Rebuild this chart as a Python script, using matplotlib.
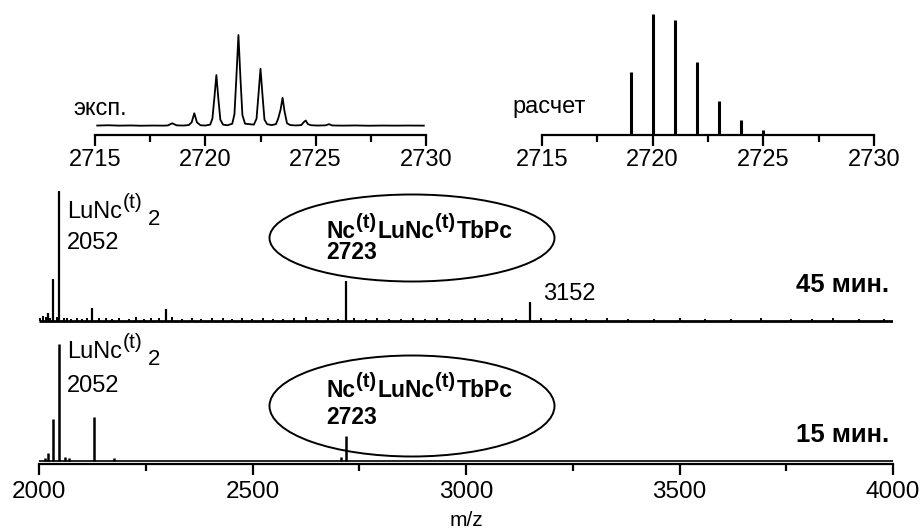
import numpy as np
import matplotlib.pyplot as plt
from matplotlib.patches import Ellipse
from matplotlib.ticker import MultipleLocator
from matplotlib.transforms import IdentityTransform

plt.rcParams['font.family'] = ['Liberation Sans', 'DejaVu Sans']

# --- inset: experimental isotope pattern (relative intensity, %)
exp_mz = [2715.1, 2715.6, 2716.1, 2716.6, 2717.1, 2717.6, 2718.1, 2718.3, 2718.5, 2718.7,
          2719.0, 2719.25, 2719.38, 2719.5, 2719.62, 2719.78, 2720.0, 2720.22, 2720.32, 2720.41,
          2720.5, 2720.59, 2720.68, 2720.8, 2721.0, 2721.22, 2721.32, 2721.41, 2721.5, 2721.59,
          2721.68, 2721.8, 2722.0, 2722.2, 2722.32, 2722.41, 2722.5, 2722.59, 2722.68, 2722.8,
          2723.0, 2723.2, 2723.3, 2723.41, 2723.5, 2723.59, 2723.7, 2723.85, 2724.1, 2724.35,
          2724.45, 2724.55, 2724.65, 2724.8, 2725.1, 2725.45, 2725.6, 2725.75, 2726.2, 2726.8,
          2727.4, 2728.0, 2728.6, 2729.2, 2729.9]
exp_int = [0.5, 0.8, 0.4, 0.6, 0.3, 0.5, 0.4, 0.6, 3, 0.7,
           0.5, 1.0, 4, 14, 4, 0.8, 0.5, 1.5, 8, 31,
           56, 30, 7, 1.5, 0.8, 2.5, 13, 55, 100, 53,
           12, 2.5, 2.0, 1.5, 8, 35, 63, 34, 7, 2.0,
           1.0, 2, 8, 18, 31, 16, 3, 1.0, 0.6, 1.0,
           4, 6, 2, 0.8, 0.5, 0.7, 2, 0.6, 0.4, 0.6,
           0.3, 0.5, 0.4, 0.5, 0.4]

# --- inset: calculated isotope pattern
calc_mz = [2719, 2720, 2721, 2722, 2723, 2724, 2725, 2726]
calc_int = [52, 100, 95, 60, 28, 12, 4, 1]

# --- main spectra, peaks (a.u.)
peaks45_mz = [2021, 2033, 2048, 2123, 2297, 2720, 3150]
peaks45_int = [8, 42, 130, 13, 12, 40, 19]
noise45_mz = [2003, 2010, 2016, 2026, 2042, 2058, 2066, 2075, 2088, 2101,
              2112, 2140, 2158, 2171, 2188, 2210, 2228, 2245, 2262, 2281,
              2312, 2335, 2358, 2380, 2405, 2430, 2452, 2476, 2498, 2525,
              2548, 2572, 2598, 2625, 2650, 2676, 2700, 2738, 2765, 2792,
              2820, 2848, 2875, 2905, 2932, 2960, 2990, 3020, 3052, 3085,
              3118, 3175, 3210, 3245, 3280, 3330, 3380, 3440, 3500, 3560,
              3620, 3690, 3760, 3810, 3860, 3920, 3980]
noise45_int = [3, 5, 4, 3, 4, 3, 3, 2, 3, 2,
               3, 3, 3, 2, 3, 2, 4, 2, 3, 3,
               4, 2, 3, 2, 3, 3, 2, 3, 2, 3,
               2, 2, 3, 4, 2, 3, 2, 3, 2, 3,
               2, 2, 3, 2, 3, 2, 2, 3, 2, 3,
               2, 3, 2, 3, 2, 3, 2, 2, 3, 2,
               2, 3, 2, 2, 3, 2, 2]

peaks15_mz = [2014, 2021, 2033, 2048, 2062, 2070, 2128, 2176, 2708, 2720]
peaks15_int = [3, 8, 42, 117, 4, 3, 44, 3, 4, 25]

base45 = 143
base15 = 3

W, H = 922, 531
fig = plt.figure(figsize=(W / 100, H / 100), dpi=100)
renderer = fig.canvas.get_renderer()

def fx(x):
    return x / W

def fy(y):
    return 1 - y / H

def rich(x, y, parts, weight='normal'):
    # parts: (text, fontsize, raise in px, gap before in px); x, y in px from top-left
    cx = x
    for s, size, dy, gap in parts:
        cx += gap
        t = fig.text(cx, H - y + dy, s, fontsize=size, fontweight=weight,
                     va='baseline', ha='left', transform=IdentityTransform())
        cx = t.get_window_extent(renderer).x1

# main axes
ax = fig.add_axes([fx(39), fy(464), fx(893) - fx(39), fy(185) - fy(464)])
ax.hlines(base45, 2000, 4000, color='black', lw=2.0)
ax.vlines(noise45_mz, base45, base45 + np.array(noise45_int), color='black', lw=1.4)
ax.vlines(peaks45_mz, base45, base45 + np.array(peaks45_int), color='black', lw=1.6)
ax.hlines(base15, 2000, 4000, color='black', lw=1.2)
ax.vlines(peaks15_mz, base15, base15 + np.array(peaks15_int), color='black', lw=1.8)
ax.set_xlim(2000, 4000)
ax.set_ylim(0, 279)
for s in ['top', 'right', 'left']:
    ax.spines[s].set_visible(False)
ax.spines['bottom'].set_linewidth(1.6)
ax.set_yticks([])
ax.xaxis.set_major_locator(MultipleLocator(500))
ax.xaxis.set_minor_locator(MultipleLocator(250))
ax.tick_params(axis='x', which='major', direction='out', length=8, width=1.6, labelsize=17.5, pad=4)
ax.tick_params(axis='x', which='minor', direction='out', length=5, width=1.6)
ax.patch.set_alpha(0)
fig.text(fx(466), fy(521), 'm/z', fontsize=15, ha='center', va='center')

# insets
def inset(x0, x1):
    a = fig.add_axes([fx(x0), fy(135), fx(x1) - fx(x0), fy(10) - fy(135)])
    a.set_xlim(2715, 2730)
    for s in ['top', 'right', 'left']:
        a.spines[s].set_visible(False)
    a.spines['bottom'].set_linewidth(1.6)
    a.set_yticks([])
    a.xaxis.set_major_locator(MultipleLocator(5))
    a.xaxis.set_minor_locator(MultipleLocator(2.5))
    a.tick_params(axis='x', which='major', direction='out', length=8, width=1.6, labelsize=17, pad=2)
    a.tick_params(axis='x', which='minor', direction='out', length=5, width=1.6)
    a.patch.set_alpha(0)
    return a

ax1 = inset(95, 426)
ax1.plot(exp_mz, exp_int, color='black', lw=1.3)
ax1.set_ylim(-9.9, 127.5)

ax2 = inset(542, 874)
ax2.vlines(calc_mz, 0, calc_int, color='black', lw=2.2)
ax2.set_ylim(0, 103.3)

fig.text(fx(73), fy(109), 'эксп.', fontsize=17, va='center', ha='left')
fig.text(fx(512), fy(107), 'расчет', fontsize=17, va='center', ha='left')

# labels on main spectra
lunc = [('LuNc', 17, 0, 0), ('(t)', 15, 10, 1), ('2', 16, -7, 5)]
rich(67, 218, lunc)
fig.text(fx(67), fy(249), '2052', fontsize=17, va='baseline')
rich(67, 358, lunc)
fig.text(fx(67), fy(392), '2052', fontsize=17, va='baseline')

big = [('Nc', 16.5, 0, 0), ('(t)', 14.5, 10, 1), ('LuNc', 16.5, 0, 1), ('(t)', 14.5, 10, 1),
       ('TbPc', 16.5, 0, 1)]
rich(326, 238, big, 'bold')
fig.text(fx(326), fy(259), '2723', fontsize=16.5, fontweight='bold', va='baseline')
rich(326, 397, big, 'bold')
fig.text(fx(326), fy(424), '2723', fontsize=16.5, fontweight='bold', va='baseline')

fig.add_artist(Ellipse((fx(412), fy(238)), fx(285), 87 / H, transform=fig.transFigure,
                       fill=False, ec='black', lw=1.4))
fig.add_artist(Ellipse((fx(412), fy(406)), fx(285), 101 / H, transform=fig.transFigure,
                       fill=False, ec='black', lw=1.4))

fig.text(fx(543), fy(294), '3152', fontsize=17, va='center')
fig.text(fx(889), fy(285), '45 мин.', fontsize=18.5, fontweight='bold', va='center', ha='right')
fig.text(fx(889), fy(435), '15 мин.', fontsize=18.5, fontweight='bold', va='center', ha='right')

fig.savefig('out.png', dpi=100)
